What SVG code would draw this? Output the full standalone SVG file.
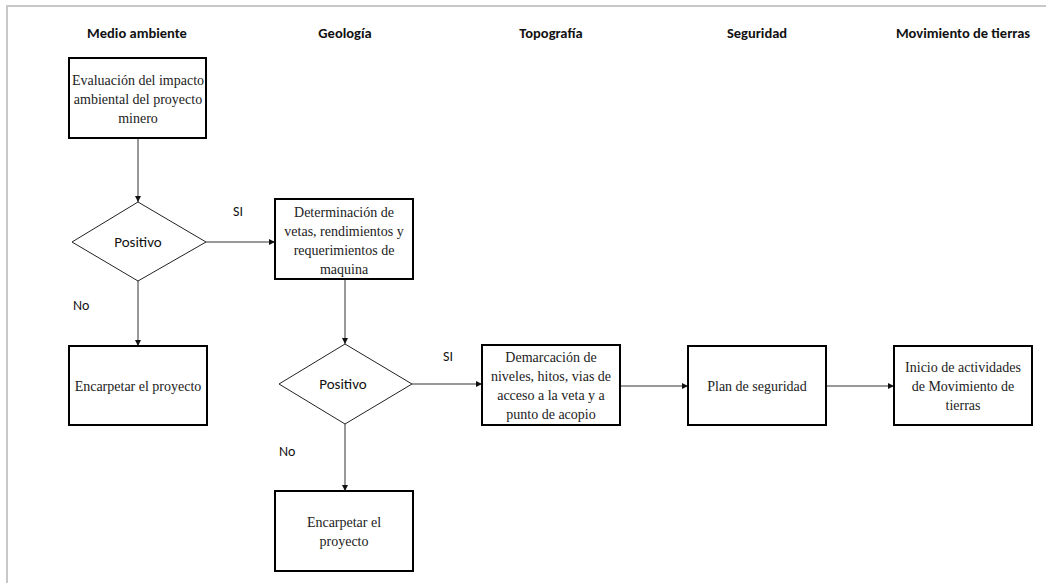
<svg xmlns="http://www.w3.org/2000/svg" width="1046" height="583" viewBox="0 0 1046 583">
<style>
.hdr{font-family:Carlito,"Liberation Sans",Arial,sans-serif;font-weight:bold;font-size:14.5px;fill:#111;text-anchor:middle}
.lbl{font-family:Carlito,"Liberation Sans",Arial,sans-serif;font-size:14px;fill:#111}
.box{fill:#fff;stroke:#000;stroke-width:2}
.dia{fill:#fff;stroke:#222;stroke-width:1}
.t{font-family:"Liberation Serif","Times New Roman",serif;font-size:14px;fill:#222;text-anchor:middle}
.dt{font-family:Carlito,"Liberation Sans",Arial,sans-serif;font-size:15px;fill:#111;text-anchor:middle}
.con{stroke:#333;stroke-width:1;fill:none;marker-end:url(#arr)}
</style>
<defs>
<marker id="arr" viewBox="0 0 6 6" refX="6" refY="3" markerWidth="6" markerHeight="6" markerUnits="userSpaceOnUse" orient="auto">
<path d="M0,0 L6,3 L0,6 Z" fill="#111"/>
</marker>
</defs>
<rect width="1046" height="583" fill="#fff"/>
<path d="M7,583 L7,6 L1046,6" fill="none" stroke="#c8c8c8" stroke-width="2"/>
<g id="headers">
<text class="hdr" x="137" y="38">Medio ambiente</text>
<text class="hdr" x="345" y="38">Geología</text>
<text class="hdr" x="551" y="38">Topografía</text>
<text class="hdr" x="757" y="38">Seguridad</text>
<text class="hdr" x="963" y="38">Movimiento de tierras</text>
</g>
<g id="connectors">
<line class="con" x1="138" y1="139" x2="138" y2="202"/>
<line class="con" x1="206" y1="242" x2="275" y2="242"/>
<line class="con" x1="138" y1="281" x2="138" y2="346"/>
<line class="con" x1="345" y1="280" x2="345" y2="344"/>
<line class="con" x1="412" y1="384" x2="482" y2="384"/>
<line class="con" x1="345" y1="424" x2="345" y2="491"/>
<line class="con" x1="621" y1="386" x2="688" y2="386"/>
<line class="con" x1="827" y1="386" x2="894" y2="386"/>
<text class="lbl" x="233" y="216">SI</text>
<text class="lbl" x="73" y="310">No</text>
<text class="lbl" x="443" y="361">SI</text>
<text class="lbl" x="279" y="456">No</text>
</g>
<g id="n1">
<rect class="box" x="69" y="58" width="137" height="80"/>
<text class="t" x="138" y="85">Evaluación del impacto</text>
<text class="t" x="138" y="104">ambiental del proyecto</text>
<text class="t" x="138" y="123">minero</text>
</g>
<g id="d1">
<polygon class="dia" points="138,202 206,242 138,281 72,242"/>
<text class="dt" x="138" y="247">Positivo</text>
</g>
<g id="n2">
<rect class="box" x="275" y="199" width="138" height="80"/>
<text class="t" x="344" y="217">Determinación de</text>
<text class="t" x="344" y="236">vetas, rendimientos y</text>
<text class="t" x="344" y="255">requerimientos de</text>
<text class="t" x="344" y="274">maquina</text>
</g>
<g id="n3">
<rect class="box" x="69" y="346" width="138" height="79"/>
<text class="t" x="138" y="391">Encarpetar el proyecto</text>
</g>
<g id="d2">
<polygon class="dia" points="345,344 412,384 345,424 279,384"/>
<text class="dt" x="343" y="389">Positivo</text>
</g>
<g id="n4">
<rect class="box" x="275" y="491" width="138" height="80"/>
<text class="t" x="344" y="527">Encarpetar el</text>
<text class="t" x="344" y="546">proyecto</text>
</g>
<g id="n5">
<rect class="box" x="482" y="345" width="138" height="80"/>
<text class="t" x="551" y="362">Demarcación de</text>
<text class="t" x="551" y="381">niveles, hitos, vias de</text>
<text class="t" x="551" y="400">acceso a la veta y a</text>
<text class="t" x="551" y="419">punto de acopio</text>
</g>
<g id="n6">
<rect class="box" x="688" y="346" width="138" height="79"/>
<text class="t" x="757" y="391">Plan de seguridad</text>
</g>
<g id="n7">
<rect class="box" x="894" y="346" width="138" height="79"/>
<text class="t" x="963" y="372">Inicio de actividades</text>
<text class="t" x="963" y="391">de Movimiento de</text>
<text class="t" x="963" y="410">tierras</text>
</g>
</svg>
